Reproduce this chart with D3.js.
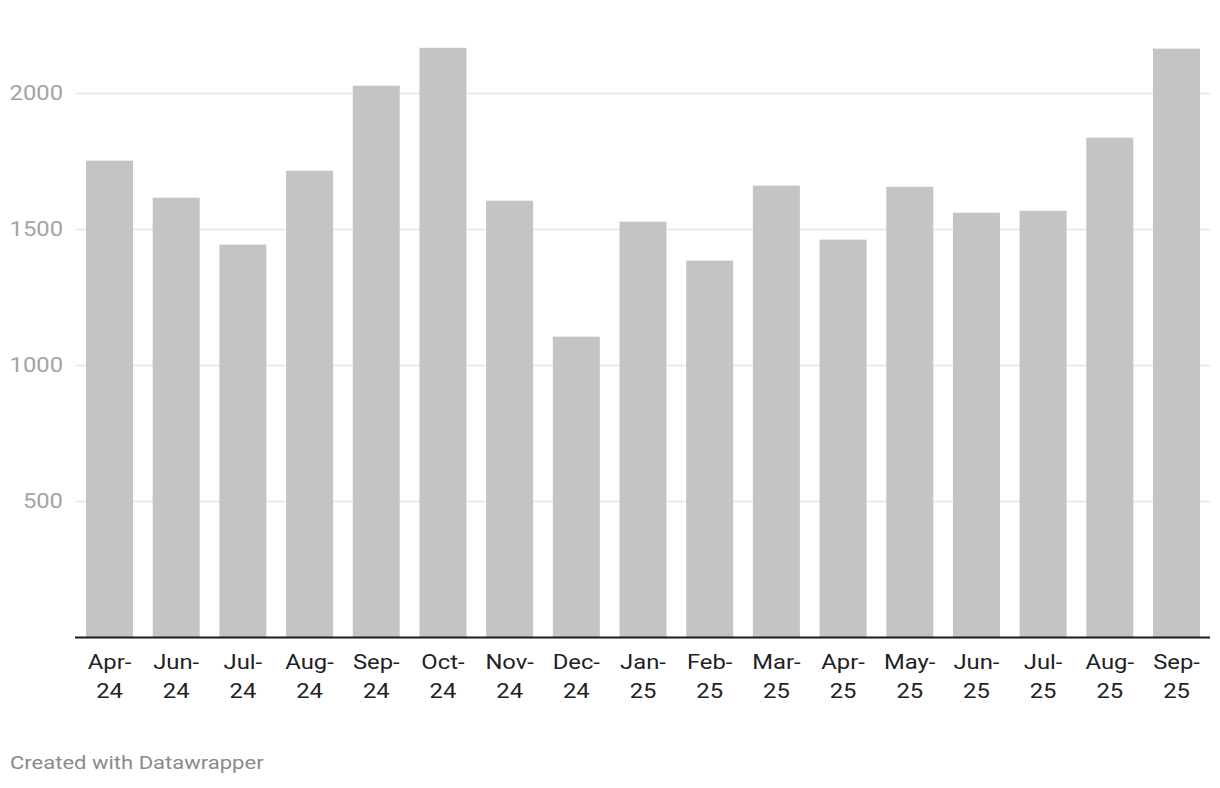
<!DOCTYPE html>
<html>
<head>
<meta charset="utf-8">
<script src="https://cdn.jsdelivr.net/npm/d3@7"></script>
<style>
  html, body { margin: 0; padding: 0; background: #fff; }
  svg { display: block; font-family: Roboto, "Noto Sans", sans-serif; }
</style>
</head>
<body>
<svg id="chart" width="1220" height="788"></svg>
<script>
const categories = ["Apr-24","Jun-24","Jul-24","Aug-24","Sep-24","Oct-24","Nov-24","Dec-24","Jan-25","Feb-25","Mar-25","Apr-25","May-25","Jun-25","Jul-25","Aug-25","Sep-25"];
const values = [1750, 1614, 1442, 1713, 2025, 2164, 1603, 1104, 1526, 1383, 1658, 1460, 1654, 1559, 1566, 1834, 2161];
const yTicks = [500, 1000, 1500, 2000];

const svg = d3.select("#chart");
const plotLeft = 76, plotRight = 1210, plotBottom = 637.5, y2000 = 92.5;
const sx = 1.19; // horizontal stretch of the text in the reference

const x = d3.scaleBand().domain(categories).range([plotLeft, plotRight]).paddingInner(0.295).paddingOuter(0.15);
const y = d3.scaleLinear().domain([0, 2000]).range([plotBottom, y2000]);

// gridlines
svg.append("g").selectAll("line").data(yTicks).join("line")
  .attr("x1", plotLeft).attr("x2", plotRight)
  .attr("y1", d => Math.round(y(d)) + 0.5).attr("y2", d => Math.round(y(d)) + 0.5)
  .attr("stroke", "#e5e5e5").attr("stroke-width", 1.5);

// y labels
svg.append("g").selectAll("text").data(yTicks).join("text")
  .attr("transform", d => `translate(63,${y(d)}) scale(${sx},1)`)
  .attr("dy", "0.35em")
  .attr("text-anchor", "end").attr("fill", "#a3a3a3")
  .attr("font-size", 20).text(d => d);

// bars
svg.append("g").selectAll("rect").data(values).join("rect")
  .attr("x", (d, i) => x(categories[i]))
  .attr("width", x.bandwidth())
  .attr("y", d => y(d))
  .attr("height", d => plotBottom - y(d))
  .attr("fill", "#c4c4c4");

// baseline axis
svg.append("line").attr("x1", 75).attr("x2", plotRight)
  .attr("y1", plotBottom).attr("y2", plotBottom)
  .attr("stroke", "#1a1a1a").attr("stroke-width", 2);

// x labels
const xl = svg.append("g").selectAll("text").data(categories).join("text")
  .attr("text-anchor", "middle").attr("fill", "#222").attr("font-size", 20)
  .attr("transform", d => `translate(${x(d) + x.bandwidth() / 2},0) scale(${sx},1)`);
xl.append("tspan").attr("x", 0).attr("y", 669).text(d => d.split("-")[0] + "-");
xl.append("tspan").attr("x", 0).attr("y", 698).text(d => d.split("-")[1]);

// footer
svg.append("text").attr("transform", `translate(10,769) scale(${sx},1)`)
  .attr("fill", "#8a8a8a").attr("font-size", 18.5)
  .text("Created with Datawrapper");
</script>
</body>
</html>
